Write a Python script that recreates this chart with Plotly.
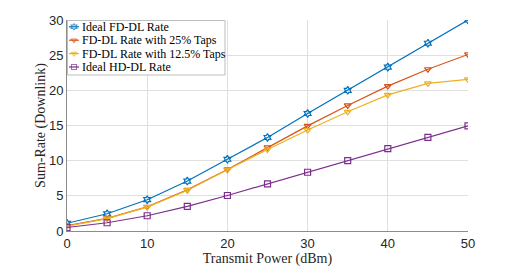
import plotly.graph_objects as go

power = [0, 5, 10, 15, 20, 25, 30, 35, 40, 45, 50]
ideal_fd = [1.1, 2.45, 4.45, 7.1, 10.2, 13.3, 16.7, 20.0, 23.3, 26.7, 30.0]
fd_25 = [0.75, 1.8, 3.45, 5.85, 8.75, 11.9, 14.95, 17.85, 20.6, 23.0, 25.1]
fd_125 = [0.7, 1.75, 3.4, 5.8, 8.7, 11.6, 14.35, 16.95, 19.35, 21.0, 21.55]
ideal_hd = [0.5, 1.17, 2.17, 3.5, 5.05, 6.7, 8.35, 10.0, 11.7, 13.3, 14.95]

names = ["Ideal FD-DL Rate", "FD-DL Rate with 25% Taps",
         "FD-DL Rate with 12.5% Taps", "Ideal HD-DL Rate"]
series = [ideal_fd, fd_25, fd_125, ideal_hd]
colors = ["#0072BD", "#D95319", "#EDB120", "#7E2F8E"]
symbols = ["hexagram-open", "triangle-down-open", "triangle-down-open", "square-open"]

# page body has an 8px default margin, so the figure is 8px smaller
W, H = 510, 260
ML, MR, MT, MB = 59, 50, 12, 37
PW, PH = W - ML - MR, H - MT - MB

fig = go.Figure()
for n, s, c, m in zip(names, series, colors, symbols):
    fig.add_trace(go.Scatter(x=power, y=s, name=n, mode="lines+markers",
                             line=dict(color=c, width=1.2),
                             marker=dict(symbol=m, size=6, color=c,
                                         line=dict(width=1.2, color=c)),
                             showlegend=False))

# Compact MATLAB-style legend drawn on an overlay pixel axis
LW, LH, ROW, TOP = 158, 55, 13.4, 6.8
fig.add_trace(go.Scatter(x=[0.5, LW, LW, 0.5, 0.5], y=[0.5, 0.5, LH, LH, 0.5],
                         xaxis="x2", yaxis="y2", mode="lines", fill="toself",
                         fillcolor="white", line=dict(color="#bdbdbd", width=1),
                         hoverinfo="skip", showlegend=False))
for i, (n, c, m) in enumerate(zip(names, colors, symbols)):
    yy = TOP + i * ROW
    fig.add_trace(go.Scatter(x=[2, 7, 12], y=[yy, yy, yy], xaxis="x2", yaxis="y2",
                             mode="lines+markers", line=dict(color=c, width=1.2),
                             marker=dict(symbol=m, size=[0, 5, 0], color=c,
                                         line=dict(width=1.1, color=c)),
                             hoverinfo="skip", showlegend=False))
    fig.add_annotation(x=13, y=yy, xref="x2", yref="y2", text=n, showarrow=False,
                       xanchor="left", yanchor="middle",
                       font=dict(family="Liberation Serif, serif", size=12, color="#000"))

axis_common = dict(showgrid=True, gridcolor="#dfdfdf", gridwidth=1,
                   showline=True, linecolor="#8c8c8c", linewidth=1, mirror=False,
                   ticks="", zeroline=False, automargin=False,
                   tickfont=dict(family="Liberation Sans, Arial", size=13, color="#262626"))
fig.update_layout(
    width=W, height=H,
    margin=dict(l=ML, r=MR, t=MT, b=MB),
    paper_bgcolor="white", plot_bgcolor="white",
    xaxis=dict(range=[0, 50], tickvals=[0, 10, 20, 30, 40, 50],
               title=dict(text="Transmit Power (dBm)", standoff=1,
                          font=dict(family="Liberation Serif, serif", size=14, color="#262626")),
               **axis_common),
    yaxis=dict(range=[0, 30], tickvals=[0, 5, 10, 15, 20, 25, 30],
               title=dict(text="Sum-Rate (Downlink)", standoff=0,
                          font=dict(family="Liberation Serif, serif", size=14, color="#262626")),
               **axis_common),
    xaxis2=dict(range=[0, PW], overlaying="x", visible=False, fixedrange=True),
    yaxis2=dict(range=[PH, 0], overlaying="y", visible=False, fixedrange=True),
    showlegend=False,
)
fig.write_html("out.html")
